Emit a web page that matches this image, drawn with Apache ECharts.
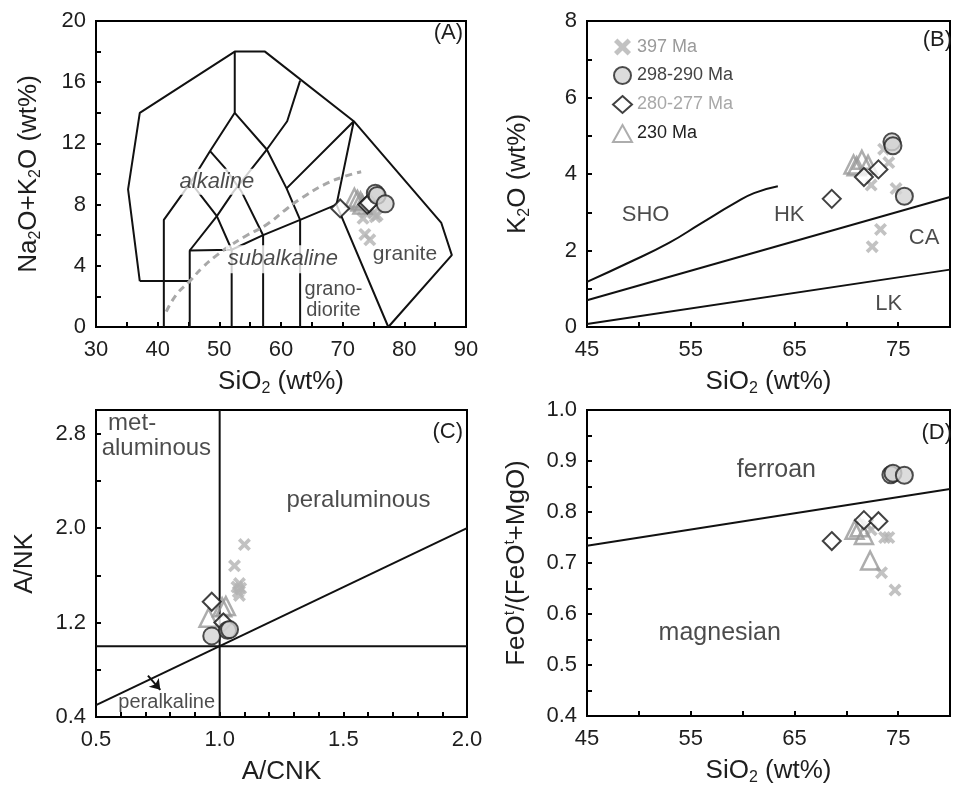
<!DOCTYPE html>
<html><head><meta charset="utf-8">
<script src="https://cdn.jsdelivr.net/npm/echarts@6/dist/echarts.min.js"></script>
<style>html,body{margin:0;padding:0;background:#fff}#c{width:953px;height:787px}</style>
</head><body><div id="c"></div>
<script>
// ---------------- DATA ----------------
const seriesNames = ['397 Ma', '298-290 Ma', '280-277 Ma', '230 Ma'];

// Panel A: TAS (SiO2 vs Na2O+K2O)
const crossesA = [[73.3,7.1],[73.8,7.5],[75.0,7.45],[75.6,7.3],[75.3,7.2],[73.6,6.05],[74.4,5.7]];
const circlesA = [[75.3,8.75],[75.6,8.6],[76.9,8.05]];
const diamondsA = [[69.6,7.75],[74.0,8.0],[74.3,8.1]];
const trianglesA = [[71.9,8.45],[72.4,8.3],[72.9,8.2],[73.2,8.0]];

// Panel B: SiO2 vs K2O
const crossesB = [[73.6,4.65],[74.1,4.3],[74.8,3.62],[72.4,3.71],[73.3,2.55],[72.5,2.1]];
const circlesB = [[74.4,4.84],[74.5,4.74],[75.6,3.42]];
const diamondsB = [[68.6,3.35],[71.7,3.92],[73.1,4.12]];
const trianglesB = [[70.7,4.25],[71.0,4.2],[71.5,4.37],[72.1,4.24]];

// Panel C: A/CNK vs A/NK
const crossesC = [[1.10,1.86],[1.06,1.68],[1.08,1.53],[1.085,1.49],[1.075,1.46],[1.08,1.43],[1.07,1.50]];
const circlesC = [[0.968,1.087],[1.032,1.135],[1.04,1.14]];
const diamondsC = [[0.968,1.376],[1.015,1.2]];
const trianglesC = [[0.955,1.24],[1.01,1.33],[1.025,1.34]];

// Panel D: SiO2 vs FeOt/(FeOt+MgO)
const crossesD = [[73.4,0.681],[74.7,0.647],[73.7,0.75],[74.1,0.75],[72.4,0.765],[72.0,0.775]];
const circlesD = [[74.3,0.873],[74.5,0.876],[75.6,0.872]];
const diamondsD = [[68.6,0.743],[71.7,0.784],[73.1,0.782]];
const trianglesD = [[70.8,0.765],[71.3,0.77],[71.7,0.755],[72.3,0.705]];

// Field boundaries
const tasOuter = [[37.1,3.0],[35.2,9.0],[37.1,14.0],[52.5,18.0],[57.4,18.0],[71.8,13.45],[86.0,6.8],[87.7,4.7],[77.4,0]];
const tasBase = [[37.1,3.0],[45.2,3.0]];
const tasLine41 = [[41,0],[41,7.0],[45.35,9.45],[48.5,11.5],[52.5,14.0],[52.5,18.0]];
const tasSubalk = [[45.2,0],[45.2,5.0],[52.0,5.05],[57.1,6.0],[63.1,7.0],[69.0,8.0]];
const tasLine52 = [[52.0,0],[52.0,5.05]];
const tasLine57 = [[57.1,0],[57.1,6.0]];
const tasLine63 = [[63.1,0],[63.1,7.0],[60.9,9.06],[57.7,11.6],[52.5,14.0]];
const tasLineB = [[48.5,11.5],[50.9,10.4],[53.6,8.85],[57.1,6.0]];
const tasLineC = [[63.1,16.1],[61.0,13.45],[57.7,11.6],[52.3,8.85],[49.6,7.25],[45.2,5.0]];
const tasLineD = [[45.35,9.45],[49.6,7.25],[52.0,5.05]];
const tasLineF = [[60.9,9.06],[71.8,13.45],[69.0,8.0],[77.4,0]];
const irvineCurve = [[41.4,1.0],[43.0,2.1],[45.2,3.0],[47.3,3.9],[49.3,4.6],[51.7,5.3],[54.5,6.0],[57.7,6.7],[61.0,7.75],[64.0,8.6],[67.0,9.3],[70.0,9.8],[73.0,10.15]];

const shoLine = [[45,1.18],[49,1.68],[52.9,2.2],[56,2.71],[59.2,3.23],[61.1,3.5],[63.4,3.68]];
const hkLine = [[45,0.7],[80,3.4]];
const caLine = [[45,0.08],[80,1.5]];

const acnkVert = [[1,0.4],[1,3.0]];
const acnkHoriz = [[0.5,1],[2,1]];
const acnkDiag = [[0.5,0.5],[2,2]];
const peralkArrow = [[0.71,0.75],[0.76,0.63]];

const ferroanLine = [[45,0.734],[80,0.845]];

// Tick labels
const ticksAx = [30,40,50,60,70,80,90];
const ticksAy = [0,4,8,12,16,20];
const ticksBx = [45,55,65,75];
const ticksBy = [0,2,4,6,8];
const ticksCx = [0.5,1.0,1.5,2.0];
const ticksCy = [0.4,1.2,2.0,2.8];
const ticksDx = [45,55,65,75];
const ticksDy = [0.4,0.5,0.6,0.7,0.8,0.9,1.0];

// ---------------- CHART ----------------
const F = "'Liberation Sans', Arial, sans-serif";
const TXT = '#1e1e1e';
const chart = echarts.init(document.getElementById('c'), null, {renderer: 'canvas'});

const rich = {
  m: {fontSize: 26, lineHeight: 30, fontFamily: F, color: TXT},
  s: {fontSize: 16, lineHeight: 12, verticalAlign: 'bottom', fontFamily: F, color: TXT},
  p: {fontSize: 15, lineHeight: 12, verticalAlign: 'top', fontFamily: F, color: TXT}
};

function fmt(list, dec) {
  return function (v) {
    for (const t of list) if (Math.abs(t - v) < 1e-6) return t.toFixed(dec);
    return '';
  };
}

function axis(gi, min, max, interval, labels, dec, name, gap, isY) {
  return {
    type: 'value', gridIndex: gi, min: min, max: max, interval: interval,
    name: name, nameLocation: 'middle', nameGap: gap,
    nameTextStyle: {fontSize: 26, fontFamily: F, color: TXT, rich: rich},
    axisLine: {show: true, onZero: false, lineStyle: {color: '#000', width: 2}},
    axisTick: {show: true, inside: true, length: 5, lineStyle: {color: '#000', width: 2}},
    axisLabel: {formatter: fmt(labels, dec), fontSize: 22, fontFamily: F, color: TXT,
      margin: isY ? 10 : 12, showMinLabel: true, showMaxLabel: true},
    splitLine: {show: false}
  };
}

const crossPath = 'path://M2,0 L5,3 L8,0 L10,2 L7,5 L10,8 L8,10 L5,7 L2,10 L0,8 L3,5 L0,2 Z';

function markerSeries(gi, cr, ci, di, tr) {
  const base = {type: 'scatter', xAxisIndex: gi, yAxisIndex: gi, emphasis: {disabled: true}, silent: true};
  return [
    Object.assign({}, base, {name: '397 Ma', data: cr, symbol: crossPath, symbolSize: 13, z: 3,
      itemStyle: {color: '#b3b3b3'}}),
    Object.assign({}, base, {name: '230 Ma', data: tr, symbol: 'triangle', symbolSize: 18, z: 4,
      itemStyle: {color: 'rgba(255,255,255,0)', borderColor: '#999', borderWidth: 2.5}}),
    Object.assign({}, base, {name: '280-277 Ma', data: di, symbol: 'diamond', symbolSize: 18, z: 5,
      itemStyle: {color: '#fff', borderColor: '#111', borderWidth: 2}}),
    Object.assign({}, base, {name: '298-290 Ma', data: ci, symbol: 'circle', symbolSize: 17, z: 6,
      itemStyle: {color: '#d3d3d3', borderColor: '#222', borderWidth: 2}})
  ];
}

function lineSeries(gi, data, extra) {
  return Object.assign({
    type: 'line', xAxisIndex: gi, yAxisIndex: gi, data: data, symbol: 'none', silent: true,
    lineStyle: {color: '#111', width: 2}, z: 2, animation: false
  }, extra || {});
}

function labelSeries(gi, items) {
  return {
    type: 'scatter', xAxisIndex: gi, yAxisIndex: gi, symbolSize: 0, silent: true, z: 2.5,
    itemStyle: {color: TXT},
    label: {show: true, position: [0, 0], align: 'center', verticalAlign: 'middle',
      fontFamily: F, color: TXT, fontSize: 22, textBorderWidth: 0},
    data: items.map(function (it) {
      return {value: it.v, label: Object.assign({formatter: it.t}, it.s || {})};
    })
  };
}

const series = [];
// Panel A
[tasOuter, tasBase, tasLine41, tasSubalk, tasLine52, tasLine57, tasLine63, tasLineB, tasLineC, tasLineD, tasLineF]
  .forEach(d => series.push(lineSeries(0, d)));
series.push(lineSeries(0, irvineCurve, {smooth: true, lineStyle: {color: '#a8a8a8', width: 3, type: [7, 5]}}));
series.push(labelSeries(0, [
  {t: 'alkaline', v: [49.6, 9.5], s: {fontStyle: 'italic', backgroundColor: '#fff', padding: [2, 2]}},
  {t: 'subalkaline', v: [60.3, 4.42], s: {fontStyle: 'italic', backgroundColor: '#fff', padding: [3, 2]}},
  {t: 'granite', v: [80.1, 4.77], s: {fontSize: 21}},
  {t: 'grano-', v: [68.5, 2.42], s: {fontSize: 20}},
  {t: 'diorite', v: [68.5, 1.11], s: {fontSize: 20}}
]));
// Panel B
series.push(lineSeries(1, shoLine, {smooth: true}));
series.push(lineSeries(1, hkLine));
series.push(lineSeries(1, caLine));
series.push(labelSeries(1, [
  {t: 'SHO', v: [50.65, 2.93]},
  {t: 'HK', v: [64.5, 2.93]},
  {t: 'CA', v: [77.5, 2.32]},
  {t: 'LK', v: [74.1, 0.6]}
]));
// Panel C
series.push(lineSeries(2, acnkVert));
series.push(lineSeries(2, acnkHoriz));
series.push(lineSeries(2, acnkDiag));
series.push({type: 'lines', coordinateSystem: 'cartesian2d', xAxisIndex: 2, yAxisIndex: 2, silent: true,
  symbol: ['none', 'arrow'], symbolSize: 10, lineStyle: {color: '#111', width: 2, opacity: 1},
  data: [{coords: peralkArrow}], z: 2});
series.push(labelSeries(2, [
  {t: 'met-', v: [0.549, 2.885], s: {fontSize: 24, align: 'left'}},
  {t: 'aluminous', v: [0.523, 2.675], s: {fontSize: 24, align: 'left'}},
  {t: 'peraluminous', v: [1.561, 2.236], s: {fontSize: 24}},
  {t: 'peralkaline', v: [0.786, 0.52], s: {fontSize: 20}}
]));
// Panel D
series.push(lineSeries(3, ferroanLine));
series.push(labelSeries(3, [
  {t: 'ferroan', v: [63.26, 0.883], s: {fontSize: 25}},
  {t: 'magnesian', v: [57.8, 0.562], s: {fontSize: 25}}
]));

series.push.apply(series, markerSeries(0, crossesA, circlesA, diamondsA, trianglesA));
series.push.apply(series, markerSeries(1, crossesB, circlesB, diamondsB, trianglesB));
series.push.apply(series, markerSeries(2, crossesC, circlesC, diamondsC, trianglesC));
series.push.apply(series, markerSeries(3, crossesD, circlesD, diamondsD, trianglesD));

const nameSiO2 = '{m|SiO}{s|2}{m| (wt%)}';

const option = {
  animation: false,
  backgroundColor: '#fff',
  textStyle: {fontFamily: F},
  grid: [
    {left: 96, top: 21, width: 370, height: 306, show: true, borderColor: '#000', borderWidth: 2},
    {left: 587, top: 21, width: 370, height: 306, show: true, borderColor: '#000', borderWidth: 2},
    {left: 96, top: 410, width: 371, height: 307, show: true, borderColor: '#000', borderWidth: 2},
    {left: 587, top: 410, width: 370, height: 307, show: true, borderColor: '#000', borderWidth: 2}
  ],
  xAxis: [
    axis(0, 30, 90, 5, ticksAx, 0, nameSiO2, 40, false),
    axis(1, 45, 80, 5, ticksBx, 0, nameSiO2, 40, false),
    axis(2, 0.5, 2.0, 0.1, ticksCx, 1, '{m|A/CNK}', 40, false),
    axis(3, 45, 80, 5, ticksDx, 0, nameSiO2, 40, false)
  ],
  yAxis: [
    axis(0, 0, 20, 2, ticksAy, 0, '{m|Na}{s|2}{m|O+K}{s|2}{m|O (wt%)}', 52, true),
    axis(1, 0, 8, 1, ticksBy, 0, '{m|K}{s|2}{m|O (wt%)}', 54, true),
    axis(2, 0.4, 3.0, 0.4, ticksCy, 1, '{m|A/NK}', 56, true),
    axis(3, 0.4, 1.0, 0.05, ticksDy, 1, '{m|FeO}{p|t}{m|/(FeO}{p|t}{m|+MgO)}', 55, true)
  ],
  legend: {
    data: [
      {name: '397 Ma', textStyle: {color: '#9a9a9a'}},
      {name: '298-290 Ma', textStyle: {color: '#444'}},
      {name: '280-277 Ma', textStyle: {color: '#a8a8a8'}},
      {name: '230 Ma', textStyle: {color: '#222'}}
    ],
    orient: 'vertical', left: 607, top: 33, itemWidth: 19, itemHeight: 17, itemGap: 10,
    selectedMode: false, textStyle: {fontSize: 18, fontFamily: F}
  },
  graphic: [
    {type: 'text', x: 463, y: 33, style: {text: '(A)', fontSize: 22, fontFamily: F, fill: TXT, align: 'right', verticalAlign: 'middle', textAlign: 'right', textVerticalAlign: 'middle'}},
    {type: 'text', x: 952, y: 40, style: {text: '(B)', fontSize: 22, fontFamily: F, fill: TXT, align: 'right', verticalAlign: 'middle', textAlign: 'right', textVerticalAlign: 'middle'}},
    {type: 'text', x: 463, y: 432, style: {text: '(C)', fontSize: 22, fontFamily: F, fill: TXT, align: 'right', verticalAlign: 'middle', textAlign: 'right', textVerticalAlign: 'middle'}},
    {type: 'text', x: 952, y: 433, style: {text: '(D)', fontSize: 22, fontFamily: F, fill: TXT, align: 'right', verticalAlign: 'middle', textAlign: 'right', textVerticalAlign: 'middle'}}
  ],
  series: series
};
chart.setOption(option);
</script></body></html>
